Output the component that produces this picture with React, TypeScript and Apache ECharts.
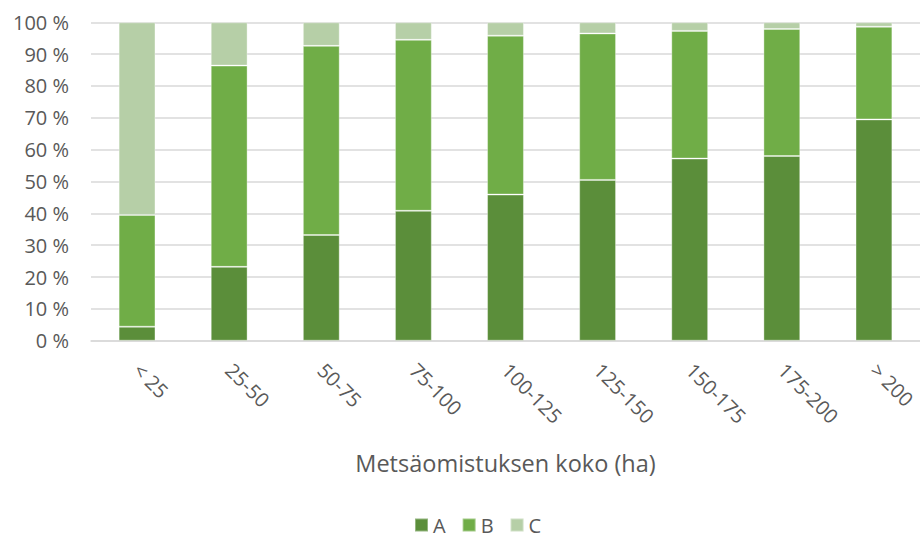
import React, { useEffect, useRef } from "react";
import * as echarts from "echarts";

// Forest holding size classes (ha)
const categories = ["< 25", "25-50", "50-75", "75-100", "100-125", "125-150", "150-175", "175-200", "> 200"];

// Share of holdings per group, percent of each size class
const seriesA = [4.4, 23.2, 33.2, 40.8, 45.9, 50.5, 57.2, 58.0, 69.5];
const seriesB = [35.1, 63.2, 59.4, 53.7, 49.9, 46.0, 40.1, 39.9, 29.1];
const seriesC = [60.5, 13.6, 7.4, 5.5, 4.2, 3.5, 2.7, 2.1, 1.4];

const seriesNames = ["A", "B", "C"];
const yTicks = { min: 0, max: 100, interval: 10 };
const axisTitle = "Metsäomistuksen koko (ha)";

const COLORS = ["#5B8E3A", "#70AD47", "#B6CFA7"];
const TEXT = "#595959";
const FONT = "'Open Sans', 'Noto Sans', sans-serif";

export default function App() {
  const ref = useRef<HTMLDivElement>(null);

  useEffect(() => {
    if (!ref.current) return;
    const chart = echarts.init(ref.current, undefined, { renderer: "svg" });
    const values = [seriesA, seriesB, seriesC];
    chart.setOption({
      animation: false,
      textStyle: { fontFamily: FONT },
      grid: { left: 91, right: -3, top: 22.3, bottom: 197.3, containLabel: false },
      legend: {
        data: seriesNames,
        left: 414,
        top: 515,
        padding: 0,
        itemWidth: 13,
        itemHeight: 13,
        itemGap: 16,
        icon: "rect",
        textStyle: { color: TEXT, fontSize: 20, lineHeight: 20, fontFamily: FONT },
      },
      xAxis: {
        type: "category",
        data: categories,
        name: axisTitle,
        nameLocation: "middle",
        nameGap: 110,
        nameTextStyle: { color: TEXT, fontSize: 23.5, fontFamily: FONT },
        axisLine: { show: true, lineStyle: { color: "#D9D9D9", width: 1.5 } },
        axisTick: { show: false },
        axisLabel: {
          color: TEXT,
          fontSize: 20,
          fontFamily: FONT,
          rotate: -45,
          margin: 26,
          interval: 0,
        },
      },
      yAxis: {
        type: "value",
        min: yTicks.min,
        max: yTicks.max,
        interval: yTicks.interval,
        axisLine: { show: false },
        axisTick: { show: false },
        splitLine: { lineStyle: { color: "#D9D9D9", width: 1.5 } },
        axisLabel: {
          color: TEXT,
          fontSize: 20,
          fontFamily: FONT,
          margin: 22,
          formatter: "{value} %",
        },
      },
      series: seriesNames.map((name, i) => ({
        name,
        type: "bar",
        stack: "total",
        data: values[i],
        barWidth: "40%",
        itemStyle: {
          color: COLORS[i],
          borderColor: "rgba(255,255,255,0.35)",
          borderWidth: 1,
        },
      })),
    });
    return () => chart.dispose();
  }, []);

  return (
    <div
      ref={ref}
      style={{ position: "fixed", left: 0, top: 0, width: 920, height: 538, background: "#fff" }}
    />
  );
}
